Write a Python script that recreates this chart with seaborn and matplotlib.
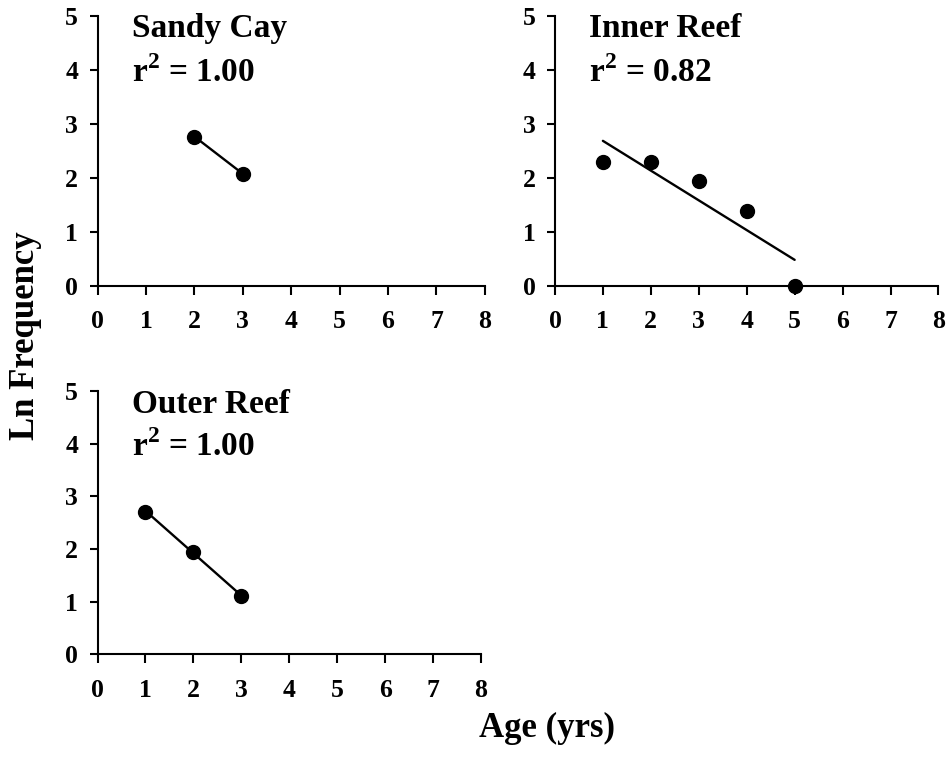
import numpy as np
import matplotlib
matplotlib.use('Agg')
import matplotlib.pyplot as plt
import seaborn as sns

sites = ['Sandy Cay', 'Inner Reef', 'Outer Reef']
sandy_age = [2, 3]
sandy_ln = [2.77, 2.08]
inner_age = [1, 2, 3, 4, 5]
inner_ln = [2.30, 2.30, 1.95, 1.39, 0.0]
outer_age = [1, 2, 3]
outer_ln = [2.71, 1.95, 1.10]
x_ticks = [0, 1, 2, 3, 4, 5, 6, 7, 8]
y_ticks = [0, 1, 2, 3, 4, 5]

sns.set_style('ticks')
plt.rcParams['font.family'] = ['Liberation Serif', 'DejaVu Serif']
plt.rcParams['font.weight'] = 'bold'
plt.rcParams['text.color'] = 'black'
plt.rcParams['xtick.color'] = 'black'
plt.rcParams['ytick.color'] = 'black'
plt.rcParams['mathtext.fontset'] = 'custom'
plt.rcParams['mathtext.rm'] = 'Liberation Serif:bold'
plt.rcParams['mathtext.bf'] = 'Liberation Serif:bold'

fig = plt.figure(figsize=(9.47, 7.67), dpi=100)
positions = [
    [0.103, 0.627, 0.409, 0.352],
    [0.586, 0.627, 0.405, 0.352],
    [0.103, 0.147, 0.405, 0.343],
]
data = [(sandy_age, sandy_ln), (inner_age, inner_ln), (outer_age, outer_ln)]

for name, pos, (ages, lns) in zip(sites, positions, data):
    ax = fig.add_axes(pos)
    r2 = np.corrcoef(ages, lns)[0, 1] ** 2
    sns.regplot(x=ages, y=lns, ax=ax, ci=None, color='black',
                scatter_kws={'s': 100, 'clip_on': False, 'zorder': 3, 'alpha': 1},
                line_kws={'lw': 1.7})
    ax.set_xlim(0, 8)
    ax.set_ylim(0, 5)
    ax.set_xticks(x_ticks)
    ax.set_yticks(y_ticks)
    ax.tick_params(axis='both', direction='out', width=1.5,
                   labelsize=18.5, color='black', labelcolor='black')
    ax.tick_params(axis='x', pad=11, length=6.5)
    ax.tick_params(axis='y', pad=8, length=6)
    for lab in ax.get_xticklabels() + ax.get_yticklabels():
        lab.set_fontweight('bold')
    for side in ['top', 'right']:
        ax.spines[side].set_visible(False)
    for side in ['left', 'bottom']:
        ax.spines[side].set_linewidth(1.5)
        ax.spines[side].set_color('black')
    ax.set_xlabel('')
    ax.set_ylabel('')
    ax.text(0.09, 1.01, name, transform=ax.transAxes, fontsize=24,
            fontweight='bold', va='top', ha='left')
    ax.text(0.09, 0.85, r'r$^{\mathbf{2}}$ = %.2f' % r2, transform=ax.transAxes,
            fontsize=24, fontweight='bold', va='top', ha='left')

fig.text(0.578, 0.05, 'Age (yrs)', fontsize=25, fontweight='bold',
         ha='center', va='center')
fig.text(0.027, 0.563, 'Ln Frequency', fontsize=25, fontweight='bold',
         ha='center', va='center', rotation=90)

fig.savefig('out.png', dpi=100)
